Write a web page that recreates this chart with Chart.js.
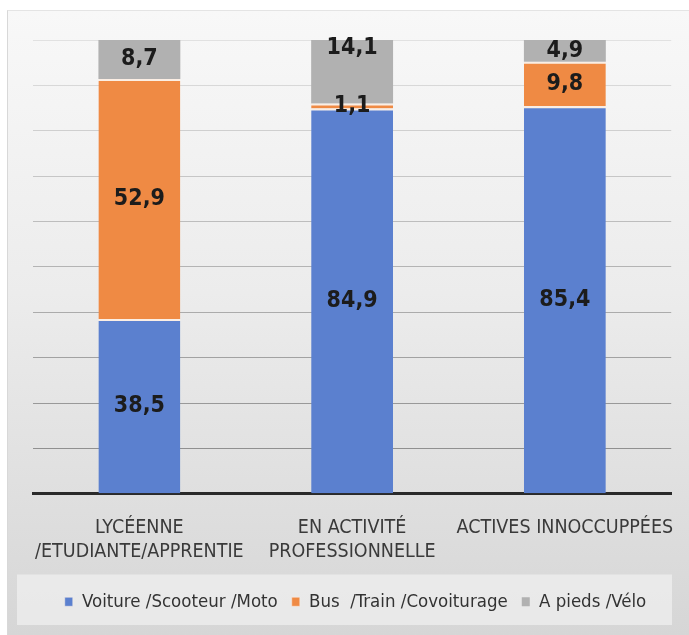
<!DOCTYPE html>
<html>
<head>
<meta charset="utf-8">
<script src="https://cdn.jsdelivr.net/npm/chart.js@4.4.1/dist/chart.umd.min.js"></script>
<style>
  html, body { margin: 0; padding: 0; background: #ffffff; }
  #card {
    position: absolute; left: 7px; top: 10px; width: 682px; height: 625px;
    background: linear-gradient(to bottom, #f8f8f8 0%, #ececec 45%, #d6d6d6 100%);
    border-left: 1px solid #d8d8d8; border-top: 1px solid #e4e4e4;
  }
  #wrap { position: absolute; left: 0; top: 0; width: 689px; height: 635px; }
</style>
</head>
<body>
<div id="card"></div>
<div id="wrap"><canvas id="c" width="689" height="635"></canvas></div>
<script>
// Categories (each label split over two lines)
const categories = [
  ['LYCÉENNE', '/ETUDIANTE/APPRENTIE'],
  ['EN ACTIVITÉ', 'PROFESSIONNELLE'],
  ['ACTIVES INNOCCUPPÉES']
];
// Share of each transport mode, in percent
const voiture = [38.5, 84.9, 85.4];
const bus = [52.9, 1.1, 9.8];
const pieds = [8.7, 14.1, 4.9];
const seriesNames = ['Voiture /Scooteur /Moto', 'Bus  /Train /Covoiturage', 'A pieds /Vélo'];
const gridTicks = [0, 10, 20, 30, 40, 50, 60, 70, 80, 90, 100];

const FONT = "'Liberation Sans Narrow', 'DejaVu Sans Condensed', 'Arial Narrow', sans-serif";

// Value labels drawn in the middle of each segment
const segmentLabels = {
  id: 'segmentLabels',
  afterDatasetsDraw(chart, args, opts) {
    const ctx = chart.ctx;
    ctx.save();
    ctx.font = 'bold 23px ' + FONT;
    ctx.fillStyle = '#1c1c1c';
    ctx.textAlign = 'center';
    ctx.textBaseline = 'middle';
    chart.data.datasets.forEach((ds, di) => {
      const meta = chart.getDatasetMeta(di);
      meta.data.forEach((el, i) => {
        const v = ds.data[i];
        let y = (el.y + el.base) / 2;
        const shift = (opts.shift[di] || [])[i] || 0;
        y += shift;
        ctx.fillText(String(v).replace('.', ','), el.x, y);
      });
    });
    ctx.restore();
  }
};

// Lighter panel behind the legend
const legendPanel = {
  id: 'legendPanel',
  beforeDraw(chart) {
    const l = chart.legend;
    if (!l) return;
    const ctx = chart.ctx;
    ctx.save();
    ctx.fillStyle = 'rgba(236,236,236,0.85)';
    ctx.fillRect(17, l.top - 4, 655, l.height + 8);
    ctx.restore();
  }
};

const colors = ['#5b80cf', '#ef8a44', '#b1b1b1'];

new Chart(document.getElementById('c'), {
  type: 'bar',
  data: {
    labels: categories,
    datasets: [voiture, bus, pieds].map((d, i) => ({
      label: seriesNames[i],
      data: d,
      backgroundColor: colors[i],
      borderColor: '#fbeee4',
      borderWidth: { top: i < 2 ? 2 : 0, bottom: 0, left: 0, right: 0 },
      borderSkipped: false,
      categoryPercentage: 1,
      barPercentage: 0.385
    }))
  },
  options: {
    responsive: false,
    animation: false,
    layout: { padding: { left: 33, right: 11, top: 40, bottom: 14 } },
    scales: {
      x: {
        stacked: true,
        grid: { display: false },
        border: { display: true, color: '#2a2a2a', width: 3 },
        ticks: {
          color: '#3a3a3a',
          font: { family: FONT, size: 19.5, lineHeight: 1.25 },
          padding: 14,
          maxRotation: 0,
          autoSkip: false
        }
      },
      y: {
        stacked: true,
        min: 0,
        max: 100,
        afterBuildTicks(axis) { axis.ticks = gridTicks.map(v => ({ value: v })); },
        ticks: { display: false },
        border: { display: false },
        grid: {
          drawTicks: false,
          lineWidth: 1,
          color(ctx) {
            const v = ctx.tick ? ctx.tick.value : 0;
            const g = Math.round(135 + (v / 100) * 90);
            return 'rgb(' + g + ',' + g + ',' + g + ')';
          }
        }
      }
    },
    plugins: {
      legend: {
        position: 'bottom',
        labels: {
          color: '#333333',
          font: { family: FONT, size: 18.5 },
          boxWidth: 8,
          boxHeight: 9,
          padding: 14
        }
      },
      tooltip: { enabled: false },
      segmentLabels: { shift: { 2: [0, -24, 0] } }
    }
  },
  plugins: [segmentLabels, legendPanel]
});
</script>
</body>
</html>
